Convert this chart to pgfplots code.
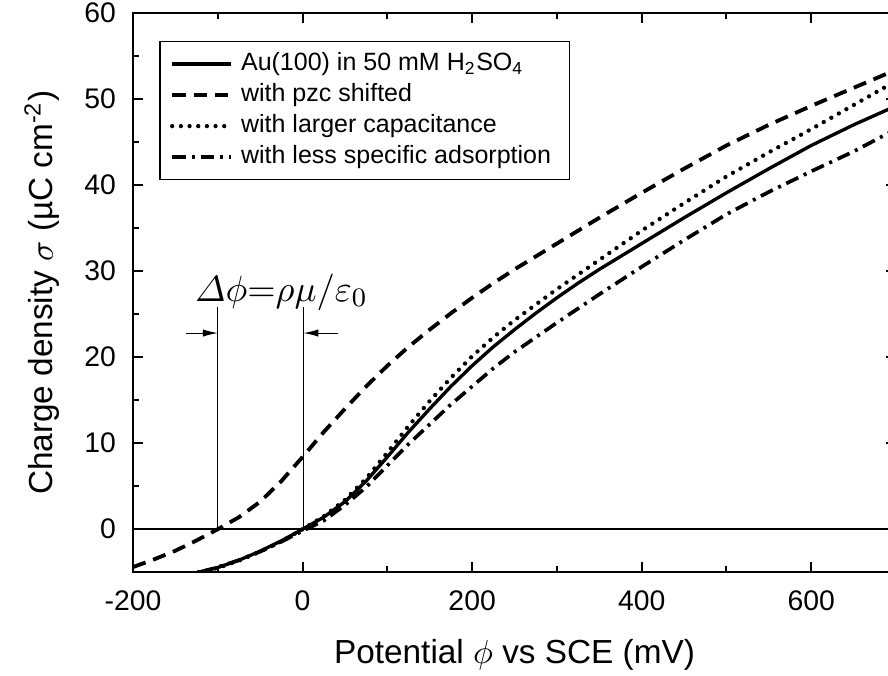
\documentclass[border=0pt]{standalone}
\usepackage{pgfplots}
\pgfplotsset{compat=1.18}
\usepackage{amsmath}
\usepackage{fontspec}
\setmainfont{Liberation Sans}
\usetikzlibrary{arrows.meta}

\begin{document}
\begin{tikzpicture}
\begin{axis}[
  scale only axis,
  width=228.8pt, height=167.7pt,
  xmin=-200, xmax=700, ymin=-5, ymax=60,
  xtick={-200,0,200,400,600}, minor x tick num=1,
  ytick={0,10,...,60}, minor y tick num=1,
  tick align=inside,
  major tick length=3pt, minor tick length=1.8pt,
  axis line style={line width=0.6pt},
  every tick/.style={black, line width=0.6pt},
  /pgf/number format/assume math mode=true,
  tick label style={font=\fontsize{8.5}{10}\selectfont},
  xticklabel style={yshift=-2pt},
  yticklabel style={xshift=-1.6pt},
  every axis x label/.style={at={(axis description cs:0.5,-0.147)}, anchor=center},
  every axis y label/.style={at={(axis description cs:-0.1193,0.5)}, rotate=90, anchor=center},
  label style={font=\fontsize{10}{12}\selectfont},
  xlabel={Potential $\phi$ vs SCE (mV)},
  ylabel={Charge density $\sigma$ (µC cm\textsuperscript{-2})},
  legend style={at={(axis description cs:0.0345,0.95)}, anchor=north west,
    draw=black, line width=0.4pt, font=\fontsize{7.5}{9}\selectfont,
    inner xsep=3pt, inner ysep=2pt, row sep=0pt,
    nodes={inner xsep=2.5pt, inner ysep=1.2pt}},
  legend cell align=left,
  legend image code/.code={\draw[#1] (0pt,0pt) -- (17.5pt,0pt);},
]
% Au(100) in 50 mM H2SO4
\addplot[black, line width=1pt] coordinates {
  (-123,-5.0) (-100,-4.45) (-75,-3.6) (-50,-2.55) (-25,-1.35) (0,0)
  (25,1.4) (50,3.2) (75,5.6) (100,8.4) (125,11.3) (150,14.0) (175,16.6)
  (200,19.0) (225,21.2) (250,23.2) (275,25.1) (300,26.9) (325,28.6)
  (350,30.2) (375,31.7) (400,33.2) (450,36.2) (500,39.1) (550,41.9)
  (600,44.6) (650,47.0) (700,49.2)
};
\addlegendentry{Au(100) in 50 mM H\textsubscript{2}SO\textsubscript{4}}
% pzc shifted
\addplot[black, line width=1.15pt, dash pattern=on 4pt off 2.4pt] coordinates {
  (-200,-4.4) (-175,-3.5) (-150,-2.5) (-125,-1.3) (-100,0) (-75,1.4)
  (-50,3.2) (-25,5.6) (0,8.4) (25,11.3) (50,14.0) (75,16.6) (100,19.0)
  (125,21.2) (150,23.2) (175,25.1) (200,26.9) (225,28.6) (250,30.2)
  (275,31.7) (300,33.2) (350,36.2) (400,39.1) (450,41.9) (500,44.6)
  (550,47.0) (600,49.2) (650,51.3) (700,53.4)
};
\addlegendentry{with pzc shifted}
% larger capacitance
\addplot[black, line width=1.3pt, line cap=round, dash pattern=on 0pt off 2.6pt] coordinates {
  (-123,-5.0) (-100,-4.5) (-75,-3.65) (-50,-2.6) (-25,-1.4) (0,0)
  (25,1.5) (50,3.4) (75,5.9) (100,8.9) (125,12.0) (150,14.9) (175,17.6)
  (200,20.1) (225,22.3) (250,24.3) (275,26.1) (300,27.9) (325,29.6)
  (350,31.3) (400,34.7) (450,37.9) (500,41.0) (550,43.8) (600,46.5)
  (650,49.3) (700,52.1)
};
\addlegendentry{with larger capacitance}
% less specific adsorption
\addplot[black, line width=1.1pt, dash pattern=on 4pt off 1.8pt on 0.9pt off 1.8pt] coordinates {
  (-120,-5.0) (-100,-4.4) (-75,-3.6) (-50,-2.6) (-25,-1.45) (0,-0.2)
  (25,1.0) (50,2.8) (75,4.9) (100,7.4) (125,9.9) (150,12.2) (175,14.5)
  (200,16.6) (225,18.7) (250,20.6) (275,22.3) (300,24.0) (350,27.3)
  (400,30.5) (450,33.6) (500,36.6) (550,39.2) (600,41.6) (650,43.9)
  (700,46.5)
};
\addlegendentry{with less specific adsorption}
% zero line
\addplot[black, line width=0.6pt, forget plot] coordinates {(-200,0) (700,0)};
% annotation
\draw[line width=0.3pt] (axis cs:-100,0) -- (axis cs:-100,25.8);
\draw[line width=0.3pt] (axis cs:1,0) -- (axis cs:1,25.8);
\draw[line width=0.3pt, -{Latex[length=4.5pt,width=2.2pt]}] (axis cs:-137,22.8) -- (axis cs:-100,22.8);
\draw[line width=0.3pt, -{Latex[length=4.5pt,width=2.2pt]}] (axis cs:42,22.8) -- (axis cs:1,22.8);
\node[anchor=base, inner sep=0pt, font=\fontsize{11}{13}\selectfont] at (axis cs:-25,26.5)
  {$\varDelta\phi{=}\rho\mu/\varepsilon_0$};
\end{axis}
\pgfresetboundingbox
\path[use as bounding box] ([shift={(-39.9pt,-30.9pt)}]current axis.south west)
  rectangle ([shift={(-2.4pt,3.9pt)}]current axis.north east);
\end{tikzpicture}
\end{document}
